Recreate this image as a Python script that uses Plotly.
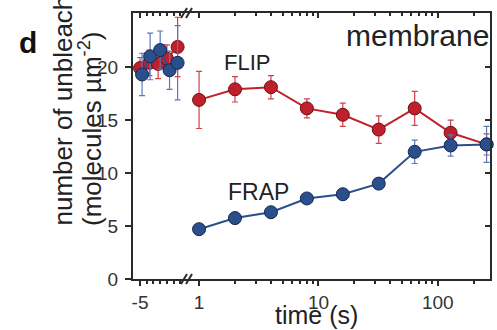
import plotly.graph_objects as go

# Pre-bleach measurements (time in s, before the bleach pulse)
pre_t_flip = [-5.0, -3.6, -2.3, -1.0, 0.6]
pre_flip = [19.9, 20.4, 20.3, 20.8, 21.9]
pre_flip_err = [1.0, 1.2, 1.4, 1.3, 2.8]

pre_t_frap = [-4.7, -3.5, -2.0, -0.6, 0.6]
pre_frap = [19.3, 21.0, 21.6, 19.7, 20.4]
pre_frap_err = [2.0, 2.2, 1.8, 1.8, 3.5]

# Post-bleach measurements (log time axis)
post_t = [1, 2, 4, 8, 16, 32, 64, 128, 256]
flip = [16.9, 17.9, 18.1, 16.1, 15.5, 14.1, 16.1, 13.8, 12.7]
flip_err = [2.7, 1.2, 1.1, 0.9, 1.1, 1.3, 1.6, 1.2, 1.0]
frap = [4.7, 5.75, 6.3, 7.6, 8.0, 9.0, 12.0, 12.6, 12.7]
frap_err = [0.4, 0.3, 0.3, 0.3, 0.3, 0.4, 1.1, 1.0, 1.7]

y_ticks = [0, 5, 10, 15, 20]
left_ticks = [-5]
left_minor = [-4, -3, -2, -1, 0, 1]
right_ticks = [1, 10, 100]
right_tick_text = ["1", "10", "100"]
right_minor = [2, 3, 4, 5, 6, 7, 8, 9, 20, 30, 40, 50, 60, 70, 80, 90, 200]

W, H = 497, 330
L, R, T, B = 133, 7, 13, 51
SPLIT = 187  # pixel where the axis break sits

RED, RED_EDGE, RED_ERR = "#c0202c", "#6e1016", "#d2404a"
BLUE, BLUE_EDGE, BLUE_ERR = "#2b4e8d", "#15284f", "#5a78b8"
FONT = "Liberation Sans, Arial, sans-serif"
INK = "#2a2a2a"


def px(x):
    return (x - L) / (W - L - R)


def py(y):
    return (H - B - y) / (H - T - B)


f = px(SPLIT)


def series(x, y, err, color, edge, ecol, xa):
    return go.Scatter(
        x=x, y=y, xaxis=xa, yaxis="y", mode="lines+markers",
        line=dict(color=color, width=2),
        marker=dict(size=13, color=color, line=dict(color=edge, width=1)),
        error_y=dict(type="data", array=err, color=ecol, thickness=1.2, width=3),
        showlegend=False, cliponaxis=False,
    )


def ghost(x, y, xa, ya):
    # invisible copy so the overlay (frame/tick) axes get rendered
    return go.Scatter(x=x, y=y, xaxis=xa, yaxis=ya, mode="markers",
                      marker=dict(opacity=0), hoverinfo="skip",
                      showlegend=False)


fig = go.Figure()
fig.add_trace(series(pre_t_flip, pre_flip, pre_flip_err, RED, RED_EDGE, RED_ERR, "x"))
fig.add_trace(series(pre_t_frap, pre_frap, pre_frap_err, BLUE, BLUE_EDGE, BLUE_ERR, "x"))
fig.add_trace(series(post_t, flip, flip_err, RED, RED_EDGE, RED_ERR, "x2"))
fig.add_trace(series(post_t, frap, frap_err, BLUE, BLUE_EDGE, BLUE_ERR, "x2"))
fig.add_trace(ghost(pre_t_flip, pre_flip, "x3", "y"))
fig.add_trace(ghost(post_t, flip, "x4", "y"))
fig.add_trace(ghost(post_t, flip, "x2", "y2"))

left_range = [-6.05, 2.0]
right_range = [-0.101, 2.437]

tickfont = dict(family=FONT, size=19, color="#333333")
common = dict(showgrid=False, zeroline=False, showline=True, linecolor=INK,
              linewidth=2, tickcolor=INK, tickwidth=1.5, tickfont=tickfont)

fig.update_layout(
    width=W, height=H,
    margin=dict(l=L, r=R, t=T, b=B, pad=0),
    paper_bgcolor="white", plot_bgcolor="white",
    xaxis=dict(domain=[0, f], range=left_range, anchor="y", ticks="outside",
               ticklen=5, tickvals=left_ticks, ticktext=["-5"],
               ticklabelstandoff=0,
               minor=dict(tickvals=left_minor, ticklen=3, ticks="outside",
                          tickcolor=INK, showgrid=False),
               **common),
    xaxis2=dict(domain=[f, 1], type="log", range=right_range, anchor="y",
                ticks="outside", ticklen=5, tickvals=right_ticks,
                ticktext=right_tick_text, ticklabelstandoff=0,
                minor=dict(tickvals=right_minor, ticklen=3, ticks="outside",
                           tickcolor=INK, showgrid=False),
                **common),
    xaxis3=dict(overlaying="x", side="top", range=left_range, anchor="y",
                ticks="inside", ticklen=5, tickvals=left_ticks,
                showticklabels=False,
                minor=dict(tickvals=left_minor, ticklen=3, ticks="inside",
                           tickcolor=INK, showgrid=False),
                **common),
    xaxis4=dict(overlaying="x2", side="top", type="log", range=right_range,
                anchor="y", ticks="inside", ticklen=5, tickvals=right_ticks,
                showticklabels=False,
                minor=dict(tickvals=right_minor, ticklen=3, ticks="inside",
                           tickcolor=INK, showgrid=False),
                **common),
    yaxis=dict(range=[0, 25.1], anchor="x", ticks="outside", ticklen=6,
               tickvals=y_ticks, ticklabelstandoff=3, **common),
    yaxis2=dict(overlaying="y", side="right", anchor="x2", range=[0, 25.1],
                ticks="inside", ticklen=5, tickvals=y_ticks,
                showticklabels=False, **common),
)

# Axis-break marks on the bottom and top frame lines
shapes = []
for yc in (H - B, T):
    for dx in (-3, 2):
        shapes.append(dict(type="line", xref="paper", yref="paper",
                           x0=px(SPLIT + dx - 3), y0=py(yc + 5),
                           x1=px(SPLIT + dx + 3), y1=py(yc - 5),
                           line=dict(color=INK, width=2)))
fig.update_layout(shapes=shapes)


def label(text, x, y, size, xanchor="center", yanchor="middle", angle=0,
          bold=False, color="#222222"):
    fig.add_annotation(
        text=f"<b>{text}</b>" if bold else text,
        xref="paper", yref="paper", x=px(x), y=py(y),
        xanchor=xanchor, yanchor=yanchor, textangle=angle, showarrow=False,
        font=dict(family=FONT, size=size, color=color),
    )


label("membrane", 491, 35, 30, xanchor="right")
label("FLIP", 247, 62, 22)
label("FRAP", 258, 192, 23)
label("time (s)", 316, 315, 25)
label("d", 28, 42, 30, bold=True, color="#111111")
label("number of unbleached", 62, 228, 26, yanchor="bottom", angle=-90)
label("(molecules µm<sup>-2</sup>)", 90, 228, 26, yanchor="bottom", angle=-90)

fig.write_html("out.html")
